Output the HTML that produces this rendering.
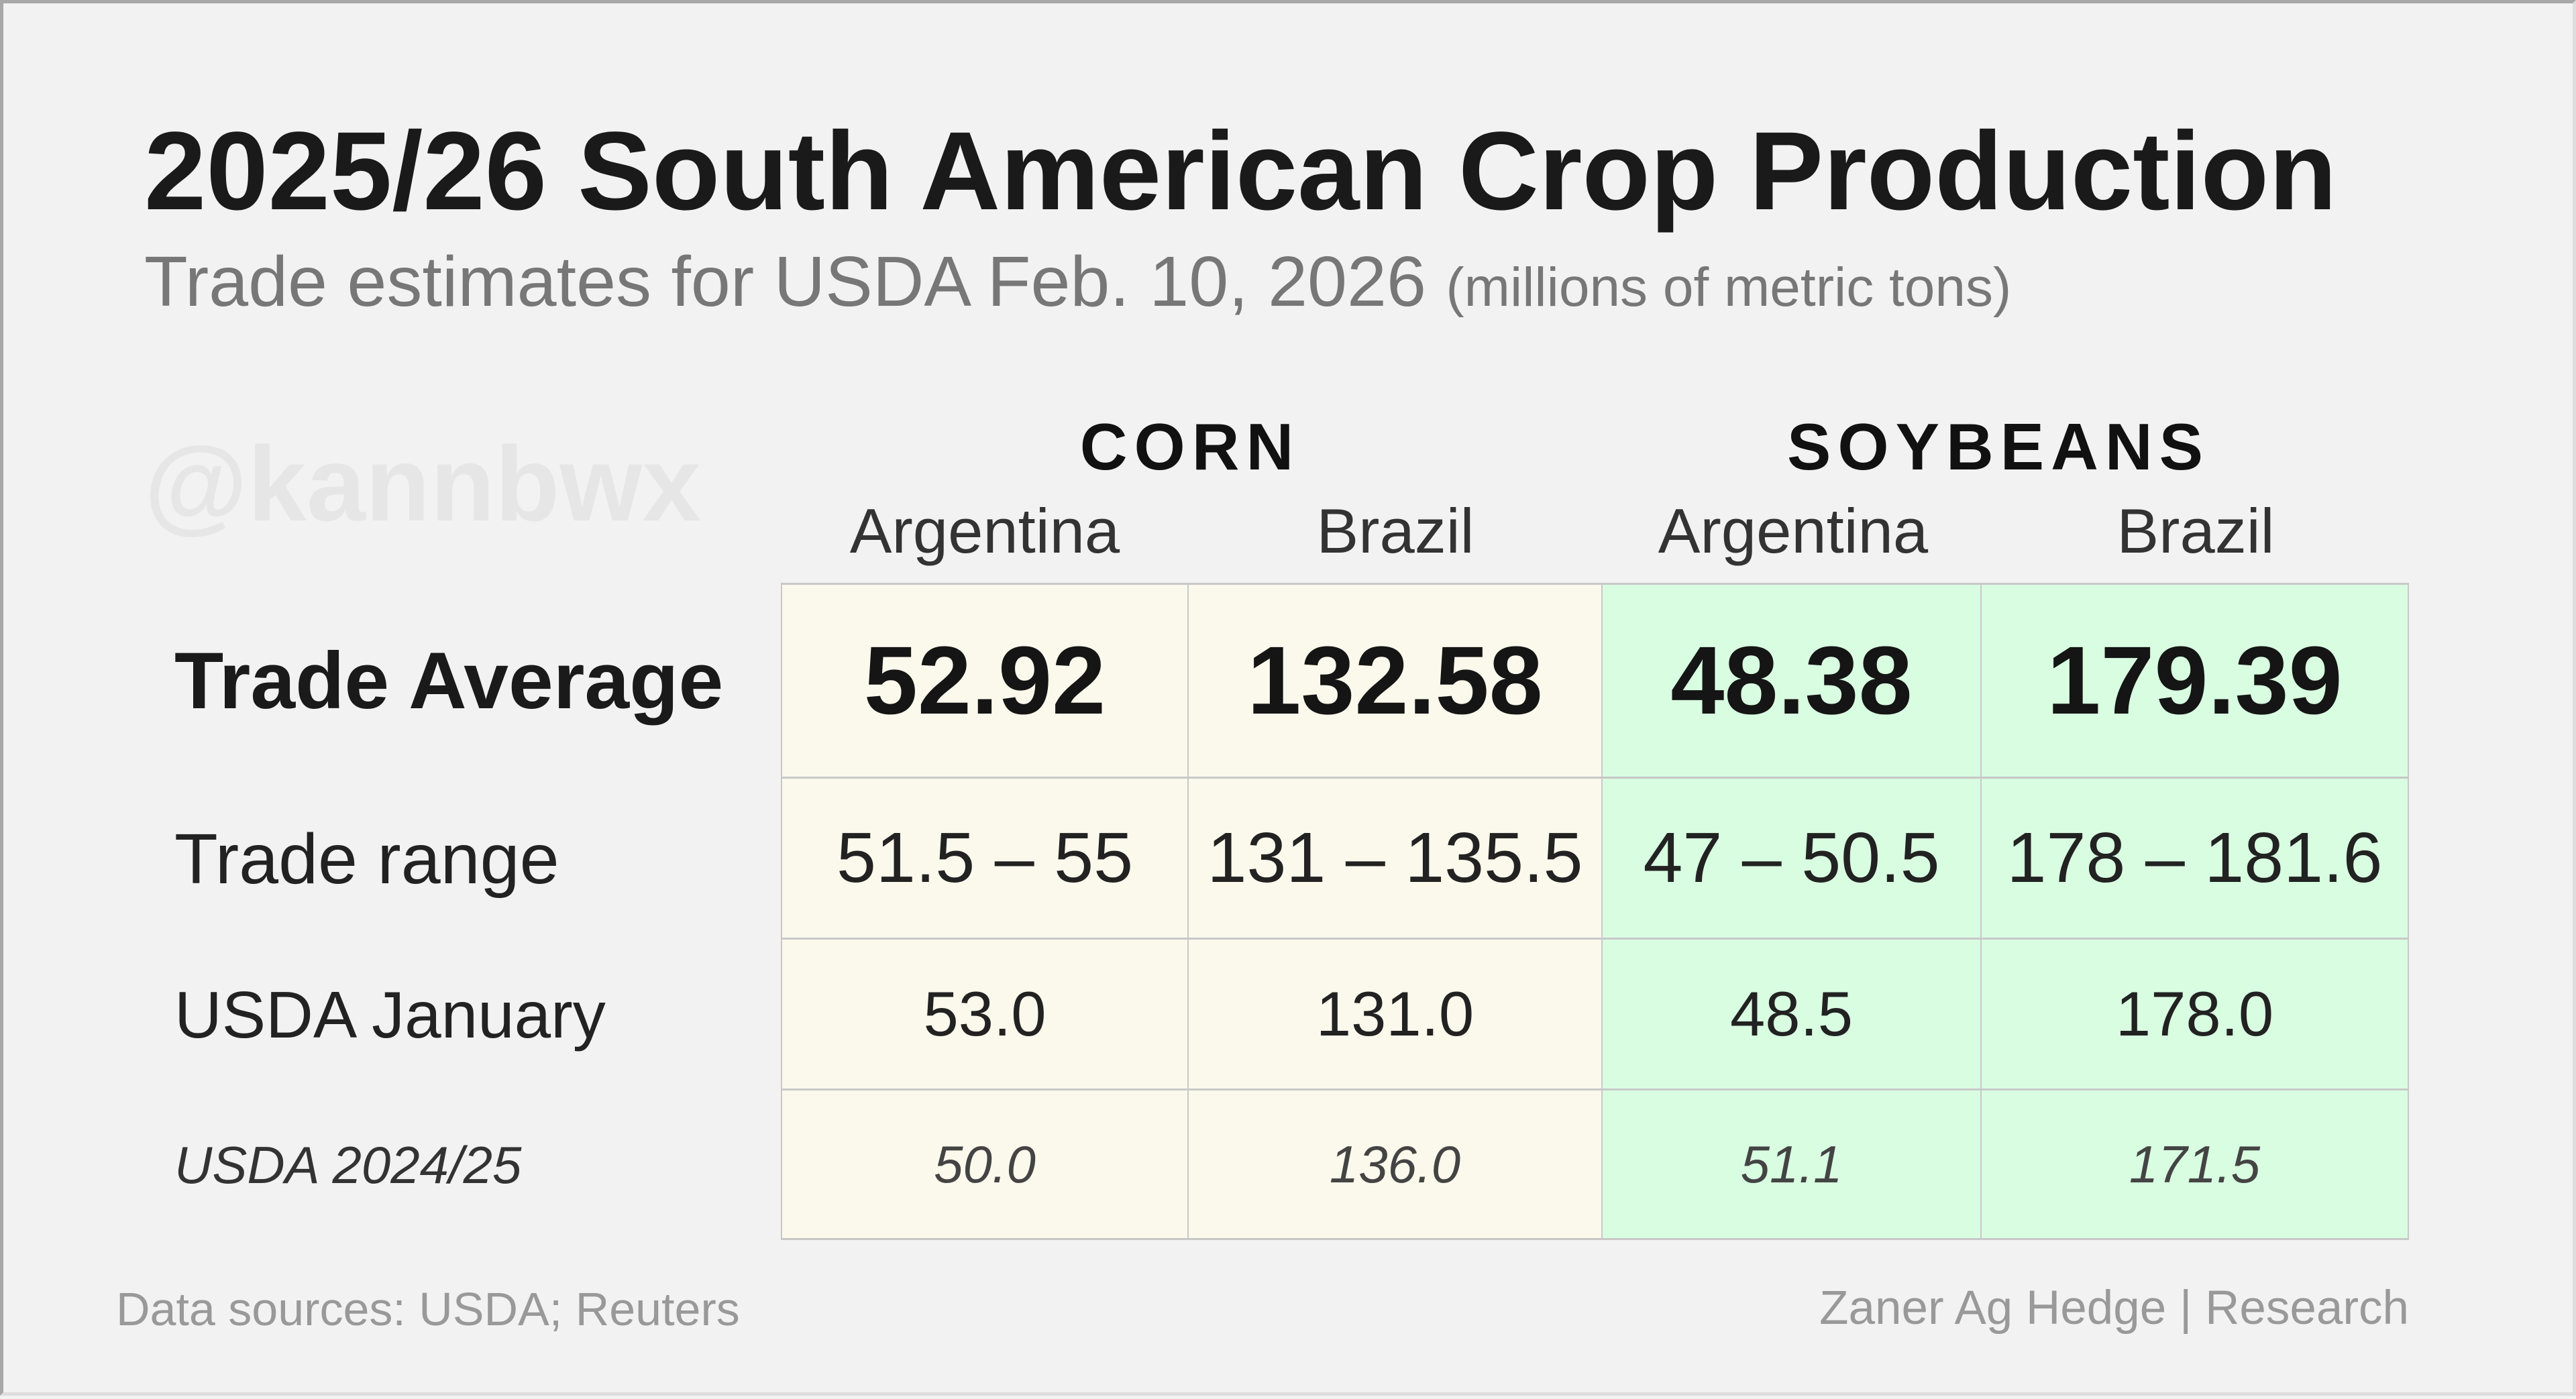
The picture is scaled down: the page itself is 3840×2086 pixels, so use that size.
<!DOCTYPE html>
<html><head><meta charset="utf-8"><style>
*{margin:0;padding:0;box-sizing:border-box}
body{width:3840px;height:2081px;background:#f2f2f2;font-family:"Liberation Sans",sans-serif;position:relative;overflow:hidden}
.frame{position:absolute;left:0;top:0;width:3840px;height:2081px;border:5px solid #a8a8a8;border-right-color:#ddd;border-bottom-color:#ddd}
.w{position:absolute;left:0;top:0;width:3840px;height:2081px;transform:translate(3px,5px)}
.a{position:absolute;line-height:1;white-space:nowrap}
.c{transform:translateX(-50%)}
.cell{position:absolute;display:flex;align-items:center;justify-content:center;border-right:2px solid #c8c8c8;border-bottom:3px solid #c8c8c8;color:#222;white-space:nowrap}
.lab{position:absolute;display:flex;align-items:center;left:257px;color:#222;white-space:nowrap}
</style></head><body>
<div class="frame"></div>
<div class="w">
<div class="a" style="left:212px;top:168px;font-size:166px;font-weight:bold;color:#1a1a1a">2025/26 South American Crop Production</div>
<div class="a" style="left:212px;top:362px;font-size:106px;color:#777">Trade estimates for USDA Feb. 10, 2026 <span style="font-size:82px">(millions of metric tons)</span></div>
<div class="a" style="left:212px;top:638px;font-size:158px;font-weight:bold;color:#e6e6e6">@kannbwx</div>
<div class="a c" style="left:1771px;top:612px;font-size:98px;font-weight:bold;letter-spacing:10px;color:#111">CORN</div>
<div class="a c" style="left:2976px;top:612px;font-size:98px;font-weight:bold;letter-spacing:10px;color:#111">SOYBEANS</div>
<div class="a c" style="left:1465px;top:740px;font-size:94px;color:#333">Argentina</div>
<div class="a c" style="left:2077px;top:740px;font-size:94px;color:#333">Brazil</div>
<div class="a c" style="left:2670px;top:740px;font-size:94px;color:#333">Argentina</div>
<div class="a c" style="left:3270px;top:740px;font-size:94px;color:#333">Brazil</div>

<div class="lab" style="top:864px;height:292px;font-size:120px;font-weight:bold;color:#1a1a1a">Trade Average</div>
<div class="lab" style="top:1156px;height:240px;font-size:106px">Trade range</div>
<div class="lab" style="top:1396px;height:225px;font-size:98px">USDA January</div>
<div class="lab" style="top:1621px;height:223px;font-size:78px;font-style:italic;color:#333">USDA 2024/25</div>

<div class="cell" style="left:1161px;top:864px;width:608px;height:292px;background:#fbf9ec;font-size:144px;font-weight:bold;color:#151515;border-left:2px solid #c8c8c8;border-top:3px solid #c8c8c8">52.92</div>
<div class="cell" style="left:1769px;top:864px;width:617px;height:292px;background:#fbf9ec;font-size:144px;font-weight:bold;color:#151515;border-top:3px solid #c8c8c8">132.58</div>
<div class="cell" style="left:2386px;top:864px;width:565px;height:292px;background:#d9fde1;font-size:144px;font-weight:bold;color:#151515;border-top:3px solid #c8c8c8">48.38</div>
<div class="cell" style="left:2951px;top:864px;width:637px;height:292px;background:#d9fde1;font-size:144px;font-weight:bold;color:#151515;border-top:3px solid #c8c8c8">179.39</div>

<div class="cell" style="left:1161px;top:1156px;width:608px;height:240px;background:#fbf9ec;font-size:106px;border-left:2px solid #c8c8c8">51.5 – 55</div>
<div class="cell" style="left:1769px;top:1156px;width:617px;height:240px;background:#fbf9ec;font-size:106px">131 – 135.5</div>
<div class="cell" style="left:2386px;top:1156px;width:565px;height:240px;background:#d9fde1;font-size:106px">47 – 50.5</div>
<div class="cell" style="left:2951px;top:1156px;width:637px;height:240px;background:#d9fde1;font-size:106px">178 – 181.6</div>

<div class="cell" style="left:1161px;top:1396px;width:608px;height:225px;background:#fbf9ec;font-size:94px;border-left:2px solid #c8c8c8">53.0</div>
<div class="cell" style="left:1769px;top:1396px;width:617px;height:225px;background:#fbf9ec;font-size:94px">131.0</div>
<div class="cell" style="left:2386px;top:1396px;width:565px;height:225px;background:#d9fde1;font-size:94px">48.5</div>
<div class="cell" style="left:2951px;top:1396px;width:637px;height:225px;background:#d9fde1;font-size:94px">178.0</div>

<div class="cell" style="left:1161px;top:1621px;width:608px;height:223px;background:#fbf9ec;font-size:78px;font-style:italic;color:#444;border-left:2px solid #c8c8c8">50.0</div>
<div class="cell" style="left:1769px;top:1621px;width:617px;height:223px;background:#fbf9ec;font-size:78px;font-style:italic;color:#444">136.0</div>
<div class="cell" style="left:2386px;top:1621px;width:565px;height:223px;background:#d9fde1;font-size:78px;font-style:italic;color:#444">51.1</div>
<div class="cell" style="left:2951px;top:1621px;width:637px;height:223px;background:#d9fde1;font-size:78px;font-style:italic;color:#444">171.5</div>

<div class="a" style="left:170px;top:1912px;font-size:70px;color:#999">Data sources: USDA; Reuters</div>
<div class="a" style="right:252px;top:1910px;font-size:71px;color:#999">Zaner Ag Hedge | Research</div>
</div>
</body></html>
